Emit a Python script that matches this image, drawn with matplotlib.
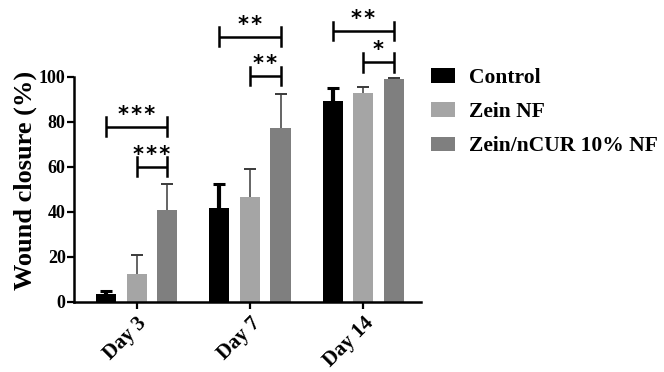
import matplotlib
matplotlib.use("Agg")
import matplotlib.pyplot as plt
import numpy as np
from matplotlib.patches import Patch

categories = ['Day 3', 'Day 7', 'Day 14']
series_names = ['Control', 'Zein NF', 'Zein/nCUR 10% NF']
control = [3.6, 41.9, 89.2]
control_err = [1.4, 10.3, 5.6]
zein = [12.3, 46.7, 92.9]
zein_err = [8.4, 12.2, 2.7]
ncur = [40.8, 77.2, 99.0]
ncur_err = [11.4, 15.1, 0.6]
yticks = [0, 20, 40, 60, 80, 100]

# significance brackets: (group index, series from, series to, height, label)
sig_groups = [0, 0, 1, 1, 2, 2]
sig_from = [0, 1, 0, 1, 0, 1]
sig_to = [2, 2, 2, 2, 2, 2]
sig_height = [77.7, 60.1, 117.8, 100.3, 120.3, 106.4]
sig_label = ['***', '***', '**', '**', '**', '*']

colors = ['#000000', '#a5a5a5', '#7f7f7f']
err_colors = ['#000000', '#3a3a3a', '#3a3a3a']
err_lw = [3.0, 1.1, 1.1]
cap_lw = [2.2, 1.4, 1.4]

plt.rcParams['font.family'] = ['Liberation Serif', 'DejaVu Serif']
plt.rcParams['font.weight'] = 'bold'

fig = plt.figure(figsize=(6.64, 3.72), dpi=100)
ax = fig.add_axes([74/664, 1-302/372, (421-74)/664, (302-76.7)/372])

x = np.arange(len(categories))
offset = 0.27
width = 0.178
vals = [control, zein, ncur]
errs = [control_err, zein_err, ncur_err]
for i in range(3):
    pos = x + (i - 1) * offset
    v = np.array(vals[i])
    top = v + np.array(errs[i])
    ax.bar(pos, v, width=width, color=colors[i], label=series_names[i], zorder=2)
    ax.vlines(pos, v, top, colors=err_colors[i], linewidth=err_lw[i], zorder=3)
    ax.plot(pos, top, linestyle='none', marker='_', markersize=9,
            markeredgewidth=cap_lw[i], color=err_colors[i], zorder=3, clip_on=False)

ax.set_xlim(-0.553, 2.51)
ax.set_ylim(0, 100)
ax.set_yticks(yticks)
ax.set_yticklabels([str(v) for v in yticks], fontsize=13, fontweight='bold')
ax.set_xticks(x)
ax.set_xticklabels(categories, rotation=45, ha='right', rotation_mode='anchor',
                   fontsize=15, fontweight='bold')
ax.spines['top'].set_visible(False)
ax.spines['right'].set_visible(False)
ax.spines['left'].set_linewidth(1.8)
ax.spines['bottom'].set_linewidth(1.8)
ax.tick_params(axis='y', length=5, width=1.6, pad=1)
ax.tick_params(axis='x', length=5, width=1.6, pad=3)
ax.set_ylabel('Wound closure (%)', fontsize=19, fontweight='bold')
ax.yaxis.set_label_coords(-0.107, 0.539)

half = 4.2
for g, a, b, h, lab in zip(sig_groups, sig_from, sig_to, sig_height, sig_label):
    xa = g + (a - 1) * offset
    xb = g + (b - 1) * offset
    ax.plot([xa, xb], [h, h], color='black', lw=1.8, clip_on=False, solid_capstyle='butt')
    ax.plot([xa, xa], [h - half, h + half], color='black', lw=1.8, clip_on=False)
    ax.plot([xb, xb], [h - half, h + half], color='black', lw=1.8, clip_on=False)
    ax.text((xa + xb) / 2, h + 0.8, '\u200a'.join(lab), ha='center', va='bottom',
            fontsize=15, fontweight='bold', family=['DejaVu Sans'], clip_on=False)

handles = [Patch(facecolor=c, edgecolor='none') for c in colors]
fig.legend(handles, series_names, loc='upper left', bbox_to_anchor=(431/664, 1-68/372),
           frameon=False, handlelength=1.12, handleheight=0.65,
           handletextpad=0.65, labelspacing=0.66, borderpad=0, borderaxespad=0,
           prop={'weight': 'bold', 'size': 15.5})

fig.savefig('out.png', dpi=100)
